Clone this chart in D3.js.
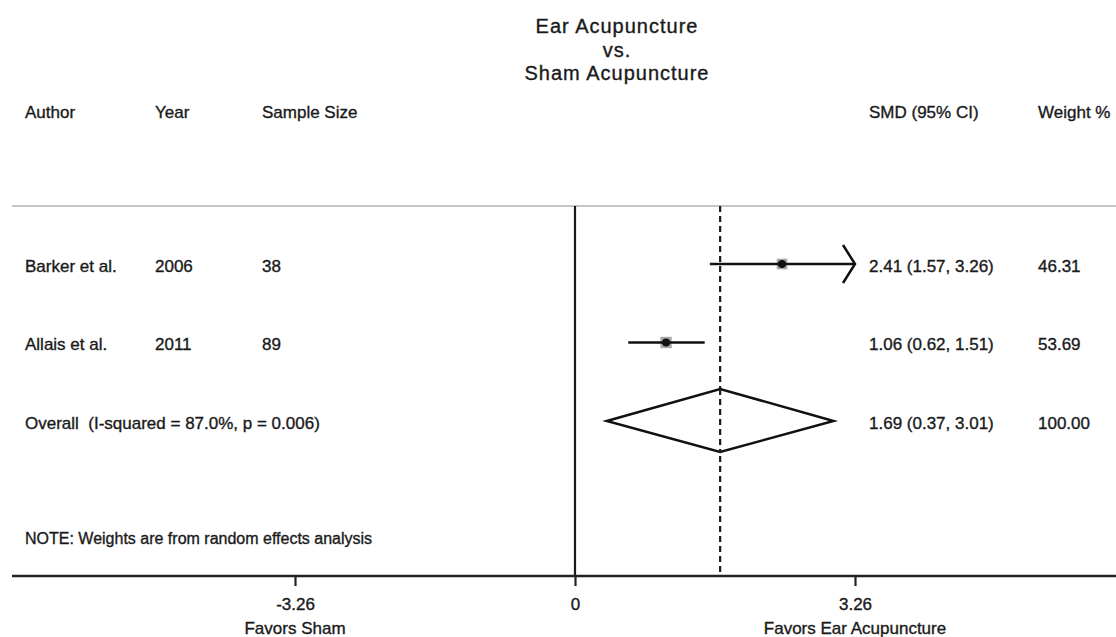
<!DOCTYPE html>
<html>
<head>
<meta charset="utf-8">
<script src="https://cdn.jsdelivr.net/npm/d3@7"></script>
<style>
	body { margin: 0; background: #fff; }
	svg text { font-family: "Liberation Sans", Arial, Helvetica, sans-serif; fill: #1a1a1a; stroke: #1a1a1a; stroke-width: 0.35px; }
</style>
</head>
<body>
<svg class="chart"></svg>
<script>

// Study data
var authors = [ "Barker et al.", "Allais et al." ],
	years = [ "2006", "2011" ],
	sampleSizes = [ 38, 89 ],
	smd = [ 2.41, 1.06 ],
	lower = [ 1.57, 0.62 ],
	upper = [ 3.26, 1.51 ],
	weights = [ "46.31", "53.69" ];

// Pooled estimate
var overallLabel = "Overall  (I-squared = 87.0%, p = 0.006)",
	overallSmd = 1.69,
	overallLower = 0.37,
	overallUpper = 3.01,
	overallWeight = "100.00";

var tickValues = [ -3.26, 0, 3.26 ],
	tickLabels = [ "-3.26", "0", "3.26" ],
	sideLabels = [ "Favors Sham", "Favors Ear Acupuncture" ];

var titleLines = [ "Ear Acupuncture", "vs.", "Sham Acupuncture" ];
var headers = [ "Author", "Year", "Sample Size", "SMD (95% CI)", "Weight %" ];

var svgWidth = 1116,
	svgHeight = 637;

var chart = d3.select( ".chart" )
	.attr( "width", svgWidth )
	.attr( "height", svgHeight );

var fontSize = 17;

var x = d3.scaleLinear()
	.domain( [ -3.26, 3.26 ] )
	.range( [ 295, 855 ] );

var y = d3.scalePoint()
	.domain( [ 0, 1, 2 ] )
	.range( [ 264, 421 ] );

var topY = 206,
	axisY = 576;

function fmt( v ) { return v.toFixed( 2 ); }

// Title
chart.selectAll( ".title" )
	.data( titleLines )
	.enter()
	.append( "text" )
	.attr( "x", 617 )
	.attr( "y", function(d, i) { return 33 + i * 23.5; } )
	.attr( "text-anchor", "middle" )
	.style( "font-size", "20px" )
	.style( "letter-spacing", "1px" )
	.text( function(d) { return d; } );

// Column headers
var headerX = [ 25, 155, 262, 869, 1038 ];
chart.selectAll( ".header" )
	.data( headers )
	.enter()
	.append( "text" )
	.attr( "x", function(d, i) { return headerX[i]; } )
	.attr( "y", 112 )
	.attr( "dy", "0.35em" )
	.style( "font-size", fontSize + "px" )
	.text( function(d) { return d; } );

// Top separator
chart.append( "line" )
	.attr( "x1", 12 ).attr( "x2", svgWidth )
	.attr( "y1", topY ).attr( "y2", topY )
	.attr( "stroke", "#c6c6c6" )
	.attr( "stroke-width", 2 );

// Null line and overall line
chart.append( "line" )
	.attr( "x1", x(0) ).attr( "x2", x(0) )
	.attr( "y1", topY ).attr( "y2", axisY )
	.attr( "stroke", "#1a1a1a" )
	.attr( "stroke-width", 2.2 );

chart.append( "line" )
	.attr( "x1", x( overallSmd ) ).attr( "x2", x( overallSmd ) )
	.attr( "y1", topY ).attr( "y2", axisY )
	.attr( "stroke", "#1a1a1a" )
	.attr( "stroke-width", 2.2 )
	.attr( "stroke-dasharray", "6,4" );

// Study rows
var rows = authors.map( function(a, i) {
	return { author: a, year: years[i], n: sampleSizes[i], smd: smd[i], lo: lower[i], hi: upper[i], w: weights[i], row: i };
} );

var rowCols = [
	{ x: 25, f: function(d) { return d.author; } },
	{ x: 155, f: function(d) { return d.year; } },
	{ x: 262, f: function(d) { return d.n; } },
	{ x: 869, f: function(d) { return fmt(d.smd) + " (" + fmt(d.lo) + ", " + fmt(d.hi) + ")"; } },
	{ x: 1038, f: function(d) { return d.w; } }
];

rowCols.forEach( function(c) {
	chart.selectAll( null )
		.data( rows )
		.enter()
		.append( "text" )
		.attr( "x", c.x )
		.attr( "y", function(d) { return y( d.row ) + 2; } )
		.attr( "dy", "0.35em" )
		.style( "font-size", fontSize + "px" )
		.text( c.f );
} );

// weight boxes
function boxSize( d ) { return 6 + +d.w / 10; }

chart.selectAll( ".box" )
	.data( rows )
	.enter()
	.append( "rect" )
	.attr( "x", function(d) { return x( d.smd ) - boxSize(d) / 2; } )
	.attr( "y", function(d) { return y( d.row ) - boxSize(d) / 2; } )
	.attr( "width", boxSize )
	.attr( "height", boxSize )
	.attr( "fill", "#a8a8a8" );

// CI lines
chart.selectAll( ".ci" )
	.data( rows )
	.enter()
	.append( "line" )
	.attr( "x1", function(d) { return x( d.lo ); } )
	.attr( "x2", function(d) { return x( Math.min( d.hi, x.domain()[1] ) ); } )
	.attr( "y1", function(d) { return y( d.row ); } )
	.attr( "y2", function(d) { return y( d.row ); } )
	.attr( "stroke", "#111" )
	.attr( "stroke-width", 2.5 );

// arrow where CI reaches the axis limit
chart.selectAll( ".arrow" )
	.data( rows.filter( function(d) { return d.hi >= x.domain()[1]; } ) )
	.enter()
	.append( "path" )
	.attr( "d", function(d) {
		var tx = x( x.domain()[1] ), ty = y( d.row );
		return "M" + (tx - 12) + "," + (ty - 19) + "L" + tx + "," + ty + "L" + (tx - 12) + "," + (ty + 19);
	} )
	.attr( "fill", "none" )
	.attr( "stroke", "#111" )
	.attr( "stroke-width", 2.5 );

// point estimates
chart.selectAll( ".pt" )
	.data( rows )
	.enter()
	.append( "circle" )
	.attr( "cx", function(d) { return x( d.smd ); } )
	.attr( "cy", function(d) { return y( d.row ); } )
	.attr( "r", 4 )
	.attr( "fill", "#111" );

// Overall row
var oy = y( 2 );
chart.append( "path" )
	.attr( "d", "M" + x( overallLower ) + "," + oy +
		"L" + x( overallSmd ) + "," + (oy - 32) +
		"L" + x( overallUpper ) + "," + oy +
		"L" + x( overallSmd ) + "," + (oy + 31) + "Z" )
	.attr( "fill", "#fff" )
	.attr( "stroke", "#111" )
	.attr( "stroke-width", 2.5 );

// redraw dashed line segment over diamond fill
chart.append( "line" )
	.attr( "x1", x( overallSmd ) ).attr( "x2", x( overallSmd ) )
	.attr( "y1", oy - 32 ).attr( "y2", oy + 31 )
	.attr( "stroke", "#1a1a1a" )
	.attr( "stroke-width", 2.2 )
	.attr( "stroke-dasharray", "6,4" );

chart.append( "text" )
	.attr( "x", 25 ).attr( "y", oy + 2 )
	.attr( "dy", "0.35em" )
	.style( "font-size", fontSize + "px" )
	.style( "white-space", "pre" )
	.text( overallLabel );

chart.append( "text" )
	.attr( "x", 869 ).attr( "y", oy + 2 )
	.attr( "dy", "0.35em" )
	.style( "font-size", fontSize + "px" )
	.text( fmt( overallSmd ) + " (" + fmt( overallLower ) + ", " + fmt( overallUpper ) + ")" );

chart.append( "text" )
	.attr( "x", 1038 ).attr( "y", oy + 2 )
	.attr( "dy", "0.35em" )
	.style( "font-size", fontSize + "px" )
	.text( overallWeight );

// Note
chart.append( "text" )
	.attr( "x", 25 ).attr( "y", 538 )
	.attr( "dy", "0.35em" )
	.style( "font-size", "16px" )
	.text( "NOTE: Weights are from random effects analysis" );

// Axis
chart.append( "line" )
	.attr( "x1", 12 ).attr( "x2", svgWidth )
	.attr( "y1", axisY ).attr( "y2", axisY )
	.attr( "stroke", "#222" )
	.attr( "stroke-width", 2.5 );

var axis = d3.axisBottom( x )
	.tickValues( tickValues )
	.tickFormat( function(d, i) { return tickLabels[i]; } )
	.tickSize( 10 )
	.tickPadding( 12 );

var gAxis = chart.append( "g" )
	.attr( "transform", "translate(0," + axisY + ")" )
	.call( axis );

gAxis.select( ".domain" ).remove();
gAxis.selectAll( ".tick line" ).attr( "stroke", "#222" ).attr( "stroke-width", 2.2 );
gAxis.selectAll( ".tick text" )
	.style( "font-size", fontSize + "px" )
	.style( "font-family", "\"Liberation Sans\", Arial, sans-serif" )
	.attr( "fill", "#1a1a1a" );

chart.selectAll( ".side" )
	.data( sideLabels )
	.enter()
	.append( "text" )
	.attr( "x", function(d, i) { return x( tickValues[ i === 0 ? 0 : 2 ] ); } )
	.attr( "y", 628 )
	.attr( "dy", "0.35em" )
	.attr( "text-anchor", "middle" )
	.style( "font-size", fontSize + "px" )
	.text( function(d) { return d; } );

</script>
</body>
</html>
